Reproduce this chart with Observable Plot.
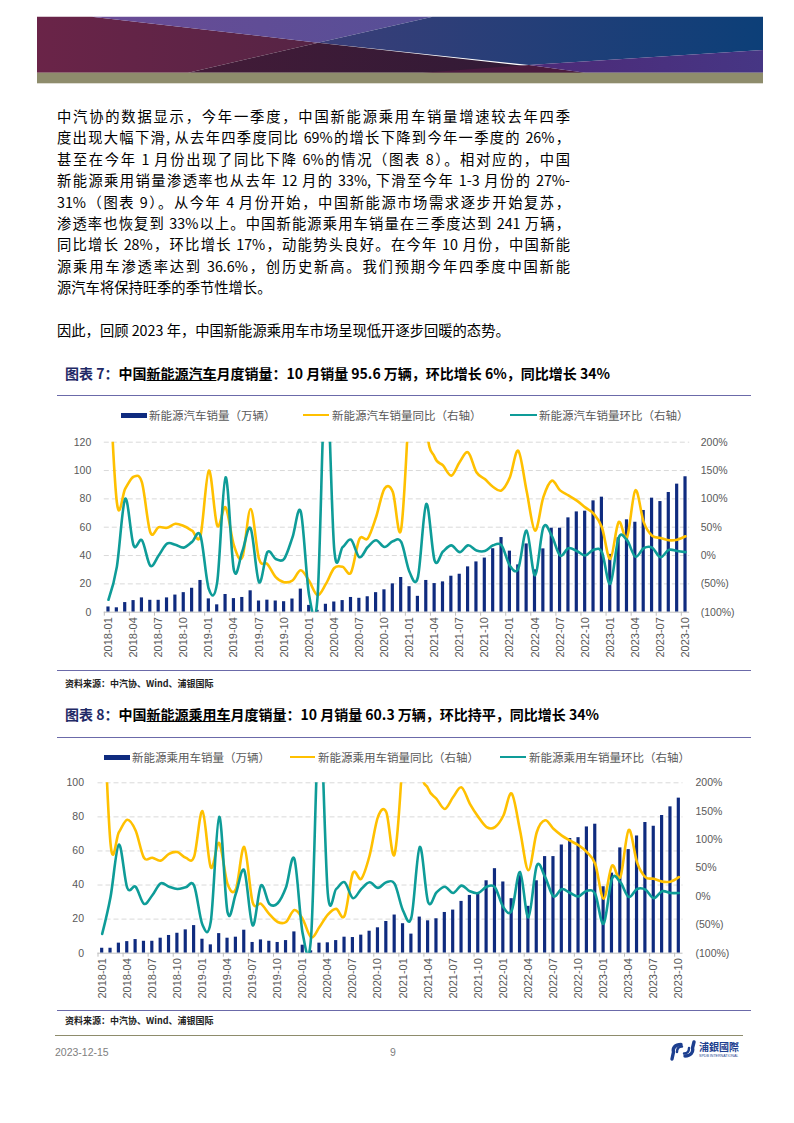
<!DOCTYPE html>
<html><head><meta charset="utf-8">
<script src="https://cdn.jsdelivr.net/npm/d3@7"></script>
<script src="https://cdn.jsdelivr.net/npm/@observablehq/plot@0.6"></script>
<style>
html,body{margin:0;padding:0;background:#fff}
body{width:794px;height:1123px;position:relative;overflow:hidden;font-family:"Noto Sans CJK SC","Noto Sans",sans-serif;color:#000}
.abs{position:absolute}
.para{position:absolute;left:57px;width:513px;font-size:14.3px;line-height:21.4px}
.para div{text-align:justify;text-align-last:justify;white-space:nowrap}
.para div.last{text-align-last:left}
.title{position:absolute;left:65px;font-size:14px;font-weight:bold;white-space:nowrap;line-height:18px}
.title .fig{color:#1f2a66}
.rule{position:absolute;left:57px;width:694px;height:0;border-top:1.2px solid #6b6aa9}
.leg{position:absolute;font-size:11.5px;color:#595959;white-space:nowrap;line-height:14px}
.sw{position:absolute}
.src{position:absolute;left:65px;font-size:9px;font-weight:bold;color:#222;white-space:nowrap}
.foot{position:absolute;font-family:"Liberation Sans",Arial,sans-serif;font-size:10.5px;color:#808080}
</style></head>
<body>
<!-- header banner -->
<svg class="abs" style="left:0;top:0" width="794" height="90">
  <defs>
    <linearGradient id="gL" x1="0" x2="1"><stop offset="0" stop-color="#6a2448"/><stop offset="1" stop-color="#562445"/></linearGradient>
    <linearGradient id="gT" x1="0" x2="1"><stop offset="0" stop-color="#6a4b95"/><stop offset="1" stop-color="#564f97"/></linearGradient>
    <linearGradient id="gR" x1="0" x2="1"><stop offset="0" stop-color="#3b3e78"/><stop offset="1" stop-color="#0c3f78"/></linearGradient>
    <linearGradient id="gB" x1="0" x2="1"><stop offset="0" stop-color="#431b38"/><stop offset="1" stop-color="#2e1a35"/></linearGradient>
    <linearGradient id="gP" x1="0" x2="1"><stop offset="0" stop-color="#4d2a78"/><stop offset="1" stop-color="#463684"/></linearGradient>
  </defs>
  <polygon points="37,16.7 91.6,16.7 318,42.7 188.3,72.7 37,72.7" fill="url(#gL)"/>
  <polygon points="91.6,16.7 432.6,16.7 318,42.7" fill="url(#gT)"/>
  <polygon points="432.6,16.7 763,16.7 763,50 529,65 318,42.7" fill="url(#gR)"/>
  <polygon points="188.3,72.7 318,42.7 585,72.7" fill="url(#gB)"/>
  <polygon points="422.4,72.7 529,65 585,72.7" fill="#4a1a3e"/>
  <polygon points="529,65 763,50 763,72.7 585,72.7" fill="url(#gP)"/>
  <rect x="37" y="72.7" width="726" height="10.6" fill="#8e8c6c"/>
</svg>

<div class="para" style="top:105px">
<div>中汽协的数据显示，今年一季度，中国新能源乘用车销量增速较去年四季</div>
<div>度出现大幅下滑, 从去年四季度同比 69%的增长下降到今年一季度的 26%，</div>
<div>甚至在今年 1 月份出现了同比下降 6%的情况（图表 8）。相对应的，中国</div>
<div>新能源乘用销量渗透率也从去年 12 月的 33%, 下滑至今年 1-3 月份的 27%-</div>
<div>31%（图表 9）。从今年 4 月份开始，中国新能源市场需求逐步开始复苏，</div>
<div>渗透率也恢复到 33%以上。中国新能源乘用车销量在三季度达到 241 万辆，</div>
<div>同比增长 28%，环比增长 17%，动能势头良好。在今年 10 月份，中国新能</div>
<div>源乘用车渗透率达到 36.6%，创历史新高。我们预期今年四季度中国新能</div>
<div class="last">源汽车将保持旺季的季节性增长。</div>
</div>
<div class="para" style="top:319px"><div class="last">因此，回顾 2023 年，中国新能源乘用车市场呈现低开逐步回暖的态势。</div></div>

<!-- chart 1 heading -->
<div class="title" style="top:364px"><span class="fig">图表 7：</span>中国<u>新能源汽车</u>月度销量：10 月销量 95.6 万辆，环比增长 6%，同比增长 34%</div>
<div class="rule" style="top:395px"></div>
<div class="sw" style="left:121px;top:412.7px;width:25.5px;height:5px;background:#0f2b7f"></div>
<div class="leg" style="left:149px;top:408px">新能源汽车销量（万辆）</div>
<div class="sw" style="left:302.5px;top:413.8px;width:26.5px;height:2.6px;background:#ffc000"></div>
<div class="leg" style="left:332px;top:408px">新能源汽车销量同比（右轴）</div>
<div class="sw" style="left:510px;top:413.8px;width:26.5px;height:2.6px;background:#0e9c98"></div>
<div class="leg" style="left:539px;top:408px">新能源汽车销量环比（右轴）</div>
<div id="chart1" class="abs" style="left:0;top:425px"></div>
<div class="rule" style="top:670px"></div>
<div class="src" style="top:677px">资料来源：中汽协、Wind、浦银国际</div>

<!-- chart 2 heading -->
<div class="title" style="top:705px"><span class="fig">图表 8：</span>中国<u>新能源乘用车</u>月度销量：10 月销量 60.3 万辆，环比持平，同比增长 34%</div>
<div class="rule" style="top:737px"></div>
<div class="sw" style="left:104px;top:754.5px;width:26px;height:5px;background:#0f2b7f"></div>
<div class="leg" style="left:132px;top:750px">新能源乘用车销量（万辆）</div>
<div class="sw" style="left:290px;top:755.7px;width:25px;height:2.6px;background:#ffc000"></div>
<div class="leg" style="left:318px;top:750px">新能源乘用车销量同比（右轴）</div>
<div class="sw" style="left:500px;top:755.7px;width:26px;height:2.6px;background:#0e9c98"></div>
<div class="leg" style="left:529px;top:750px">新能源乘用车销量环比（右轴）</div>
<div id="chart2" class="abs" style="left:0;top:765px"></div>
<div class="rule" style="top:1010px"></div>
<div class="src" style="top:1014px">资料来源：中汽协、Wind、浦银国际</div>

<!-- footer -->
<div class="abs" style="left:55px;top:1035px;width:688px;border-top:1.2px solid #8e8c6c"></div>
<div class="foot" style="left:55px;top:1046px">2023-12-15</div>
<div class="foot" style="left:390px;top:1046px">9</div>
<svg class="abs" style="left:668px;top:1040px" width="110" height="24">
  <path d="M13,4.5 C7,4.5 4.5,8 5.5,12 L4,19" fill="none" stroke="#1d3f8f" stroke-width="3.4" stroke-linecap="round"/>
  <path d="M9,12 C9,8 11,6.5 14,6.5" fill="none" stroke="#1d3f8f" stroke-width="2.4" stroke-linecap="round"/>
  <path d="M17,16 C23,16 25.5,12 24.5,8 L26,2" fill="none" stroke="#1d3f8f" stroke-width="3.4" stroke-linecap="round"/>
  <path d="M21,8 C21,12 19,13.5 16,13.5" fill="none" stroke="#1d3f8f" stroke-width="2.4" stroke-linecap="round"/>
  <text x="31" y="10.5" font-size="10" font-weight="bold" fill="#1d3f8f" font-family="Noto Sans CJK TC">浦銀國際</text>
  <text x="31" y="17" font-size="3.6" fill="#1d3f8f" font-family="Liberation Sans">SPDB INTERNATIONAL</text>
</svg>

<script>
// ---- categories ----
const months = [
 "2018-01","2018-02","2018-03","2018-04","2018-05","2018-06","2018-07","2018-08","2018-09","2018-10","2018-11","2018-12",
 "2019-01","2019-02","2019-03","2019-04","2019-05","2019-06","2019-07","2019-08","2019-09","2019-10","2019-11","2019-12",
 "2020-01","2020-02","2020-03","2020-04","2020-05","2020-06","2020-07","2020-08","2020-09","2020-10","2020-11","2020-12",
 "2021-01","2021-02","2021-03","2021-04","2021-05","2021-06","2021-07","2021-08","2021-09","2021-10","2021-11","2021-12",
 "2022-01","2022-02","2022-03","2022-04","2022-05","2022-06","2022-07","2022-08","2022-09","2022-10","2022-11","2022-12",
 "2023-01","2023-02","2023-03","2023-04","2023-05","2023-06","2023-07","2023-08","2023-09","2023-10"];
const tickMonths = ["2018-01","2018-04","2018-07","2018-10","2019-01","2019-04","2019-07","2019-10","2020-01","2020-04","2020-07","2020-10",
 "2021-01","2021-04","2021-07","2021-10","2022-01","2022-04","2022-07","2022-10","2023-01","2023-04","2023-07","2023-10"];

// ---- chart 1: NEV sales (万辆), YoY %, MoM % ----
const nevSales = [3.7,3.1,6.8,8.2,10.1,8.4,8.4,10.1,12.1,13.8,16.9,22.4,
 9.4,5.2,12.5,9.6,10.4,15.1,7.9,8.5,7.9,7.4,9.3,16.3,
 4.8,1.3,5.6,7.2,8.2,10.4,9.8,10.9,13.8,15.8,20.0,24.5,
 18.0,11.2,22.4,20.2,21.4,25.4,26.8,32.0,35.5,38.2,44.8,52.7,
 43.1,33.4,48.2,29.9,44.7,59.3,59.3,66.6,70.8,71.3,78.6,81.2,
 40.8,52.5,65.2,63.5,71.8,80.5,78.1,84.5,90.4,95.6];
const nevYoY = [360,94,118,139,129,41,50,49,56,52,44,35,
 150,53,85,18,-3,82,-6,-15,-38,-47,-44,-26,
 -45,-70,-50,-22,-20,-30,29,30,68,118,112,47,
 285,585,239,174,159,141,165,182,147,135,121,115,
 138,185,114,44,103,132,115,106,97,85,74,50,
 -6,59,32,115,59,35,31,27,28,34];
const nevMoM = [-78,-20,100,18,27,-18,0,21,19,14,24,35,
 -59,-47,138,-26,7,48,-47,6,-6,-6,32,77,
 -71,-73,330,10,15,28,-3,15,27,15,25,24,
 -29,-38,91,-9,7,18,6,18,9,8,18,18,
 -18,-23,44,-35,50,35,0,13,8,0,10,6,
 -50,31,27,-2,13,14,-3,10,8,6];

// ---- chart 2: NEV passenger sales (万辆), YoY %, MoM % ----
const pvSales = [2.9,2.9,5.9,6.8,8.0,7.0,7.0,8.8,10.4,11.7,13.7,16.2,
 8.2,4.9,11.5,8.8,9.4,13.5,6.3,7.8,7.0,6.3,7.4,12.5,
 4.7,1.4,5.9,6.1,7.4,9.4,9.2,10.6,12.9,14.9,18.6,22.4,
 17.3,11.2,21.2,19.0,20.2,23.9,25.3,30.4,33.9,35.3,42.5,49.6,
 41.8,32.0,45.5,27.5,42.5,56.7,56.7,63.5,67.3,67.8,74.1,75.7,
 39.0,47.0,61.8,60.8,68.8,76.7,74.5,80.8,85.9,91.0];
const pvYoY = [420,93,113,135,116,68,68,63,75,78,68,70,
 150,51,94,22,13,87,-10,-13,-31,-45,-45,-24,
 -40,-72,-54,-32,-22,-34,41,31,72,140,148,75,
 260,600,250,190,172,154,175,192,163,140,122,122,
 142,181,116,46,113,134,119,107,98,90,78,57,
 -4,54,34,117,60,34,31,26,26,34];
const pvMoM = [-66,-1,91,15,17,-13,2,23,17,13,16,19,
 -50,-44,140,-28,5,46,-51,19,-13,-12,16,66,
 -66,-71,320,5,13,25,-3,13,25,15,25,22,
 -25,-37,87,-10,7,17,6,19,9,6,17,16,
 -19,-25,43,-37,54,34,0,13,6,0,10,4,
 -48,31,25,-1,13,12,-3,9,6,6];

// ---- axis ticks ----
const leftTicks1 = [0,20,40,60,80,100,120];
const leftTicks2 = [0,20,40,60,80,100];
const rightTicks = [-100,-50,0,50,100,150,200];

const pct = r => r < 0 ? `(${-r}%)` : `${r}%`;
const BAR = "#0f2b7f", YEL = "#ffc000", TEAL = "#0e9c98";

function makeChart({sales, yoy, mom, leftMax, leftTicks, height, marginLeft, marginRight, marginTop, marginBottom, padL, padR}) {
  const k = leftMax / 300; // right axis spans -100%..200%
  const toLeft = r => (r + 100) * k;
  const rows = months.map((m, i) => ({month: m, sales: sales[i], yoy: toLeft(yoy[i]), mom: toLeft(mom[i])}));
  const step = (794 - marginLeft - marginRight) / months.length;
  return Plot.plot({
    width: 794, height, marginLeft, marginRight, marginTop, marginBottom,
    style: {fontFamily: "'Liberation Sans', Arial, sans-serif", fontSize: "10.5px", color: "#595959", background: "transparent", overflow: "visible"},
    x: {type: "band", domain: months, paddingInner: 0.62, paddingOuter: 0.31, round: false, label: null},
    y: {domain: [0, leftMax], label: null},
    marks: [
      Plot.gridY(leftTicks.filter(d => d > 0), {stroke: "#d9d9d9", strokeOpacity: 1, strokeDasharray: "5,3", strokeWidth: 1}),
      Plot.barY(rows, {x: "month", y: "sales", fill: BAR}),
      Plot.ruleY([0], {stroke: "#bfbfbf", strokeWidth: 1}),
      Plot.lineY(rows, {x: "month", y: "yoy", stroke: YEL, strokeWidth: 2.6, curve: "cardinal", tension: 0, clip: true}),
      Plot.lineY(rows, {x: "month", y: "mom", stroke: TEAL, strokeWidth: 2.6, curve: "cardinal", tension: 0, clip: true}),
      Plot.axisY(leftTicks, {anchor: "left", tickSize: 0, tickPadding: padL, label: null}),
      Plot.axisY(rightTicks.map(toLeft), {anchor: "right", tickSize: 0, tickPadding: padR, label: null, tickFormat: v => pct(Math.round(v / k - 100))}),
      Plot.axisX(tickMonths, {tickSize: 4, dx: -step / 2, stroke: "#bfbfbf", tickFormat: () => "", label: null}),
      Plot.axisX(tickMonths, {tickSize: 0, tickPadding: 5, tickRotate: -90, fontSize: 11, label: null})
    ]
  });
}

document.getElementById("chart1").append(makeChart({
  sales: nevSales, yoy: nevYoY, mom: nevMoM, leftMax: 120, leftTicks: leftTicks1,
  height: 245, marginLeft: 103.8, marginRight: 104.8, marginTop: 16.7, marginBottom: 58.3, padL: 13, padR: 11
}));
document.getElementById("chart2").append(makeChart({
  sales: pvSales, yoy: pvYoY, mom: pvMoM, leftMax: 100, leftTicks: leftTicks2,
  height: 240, marginLeft: 97.5, marginRight: 111.5, marginTop: 17.3, marginBottom: 52.3, padL: 14, padR: 12.5
}));
</script>
</body></html>
